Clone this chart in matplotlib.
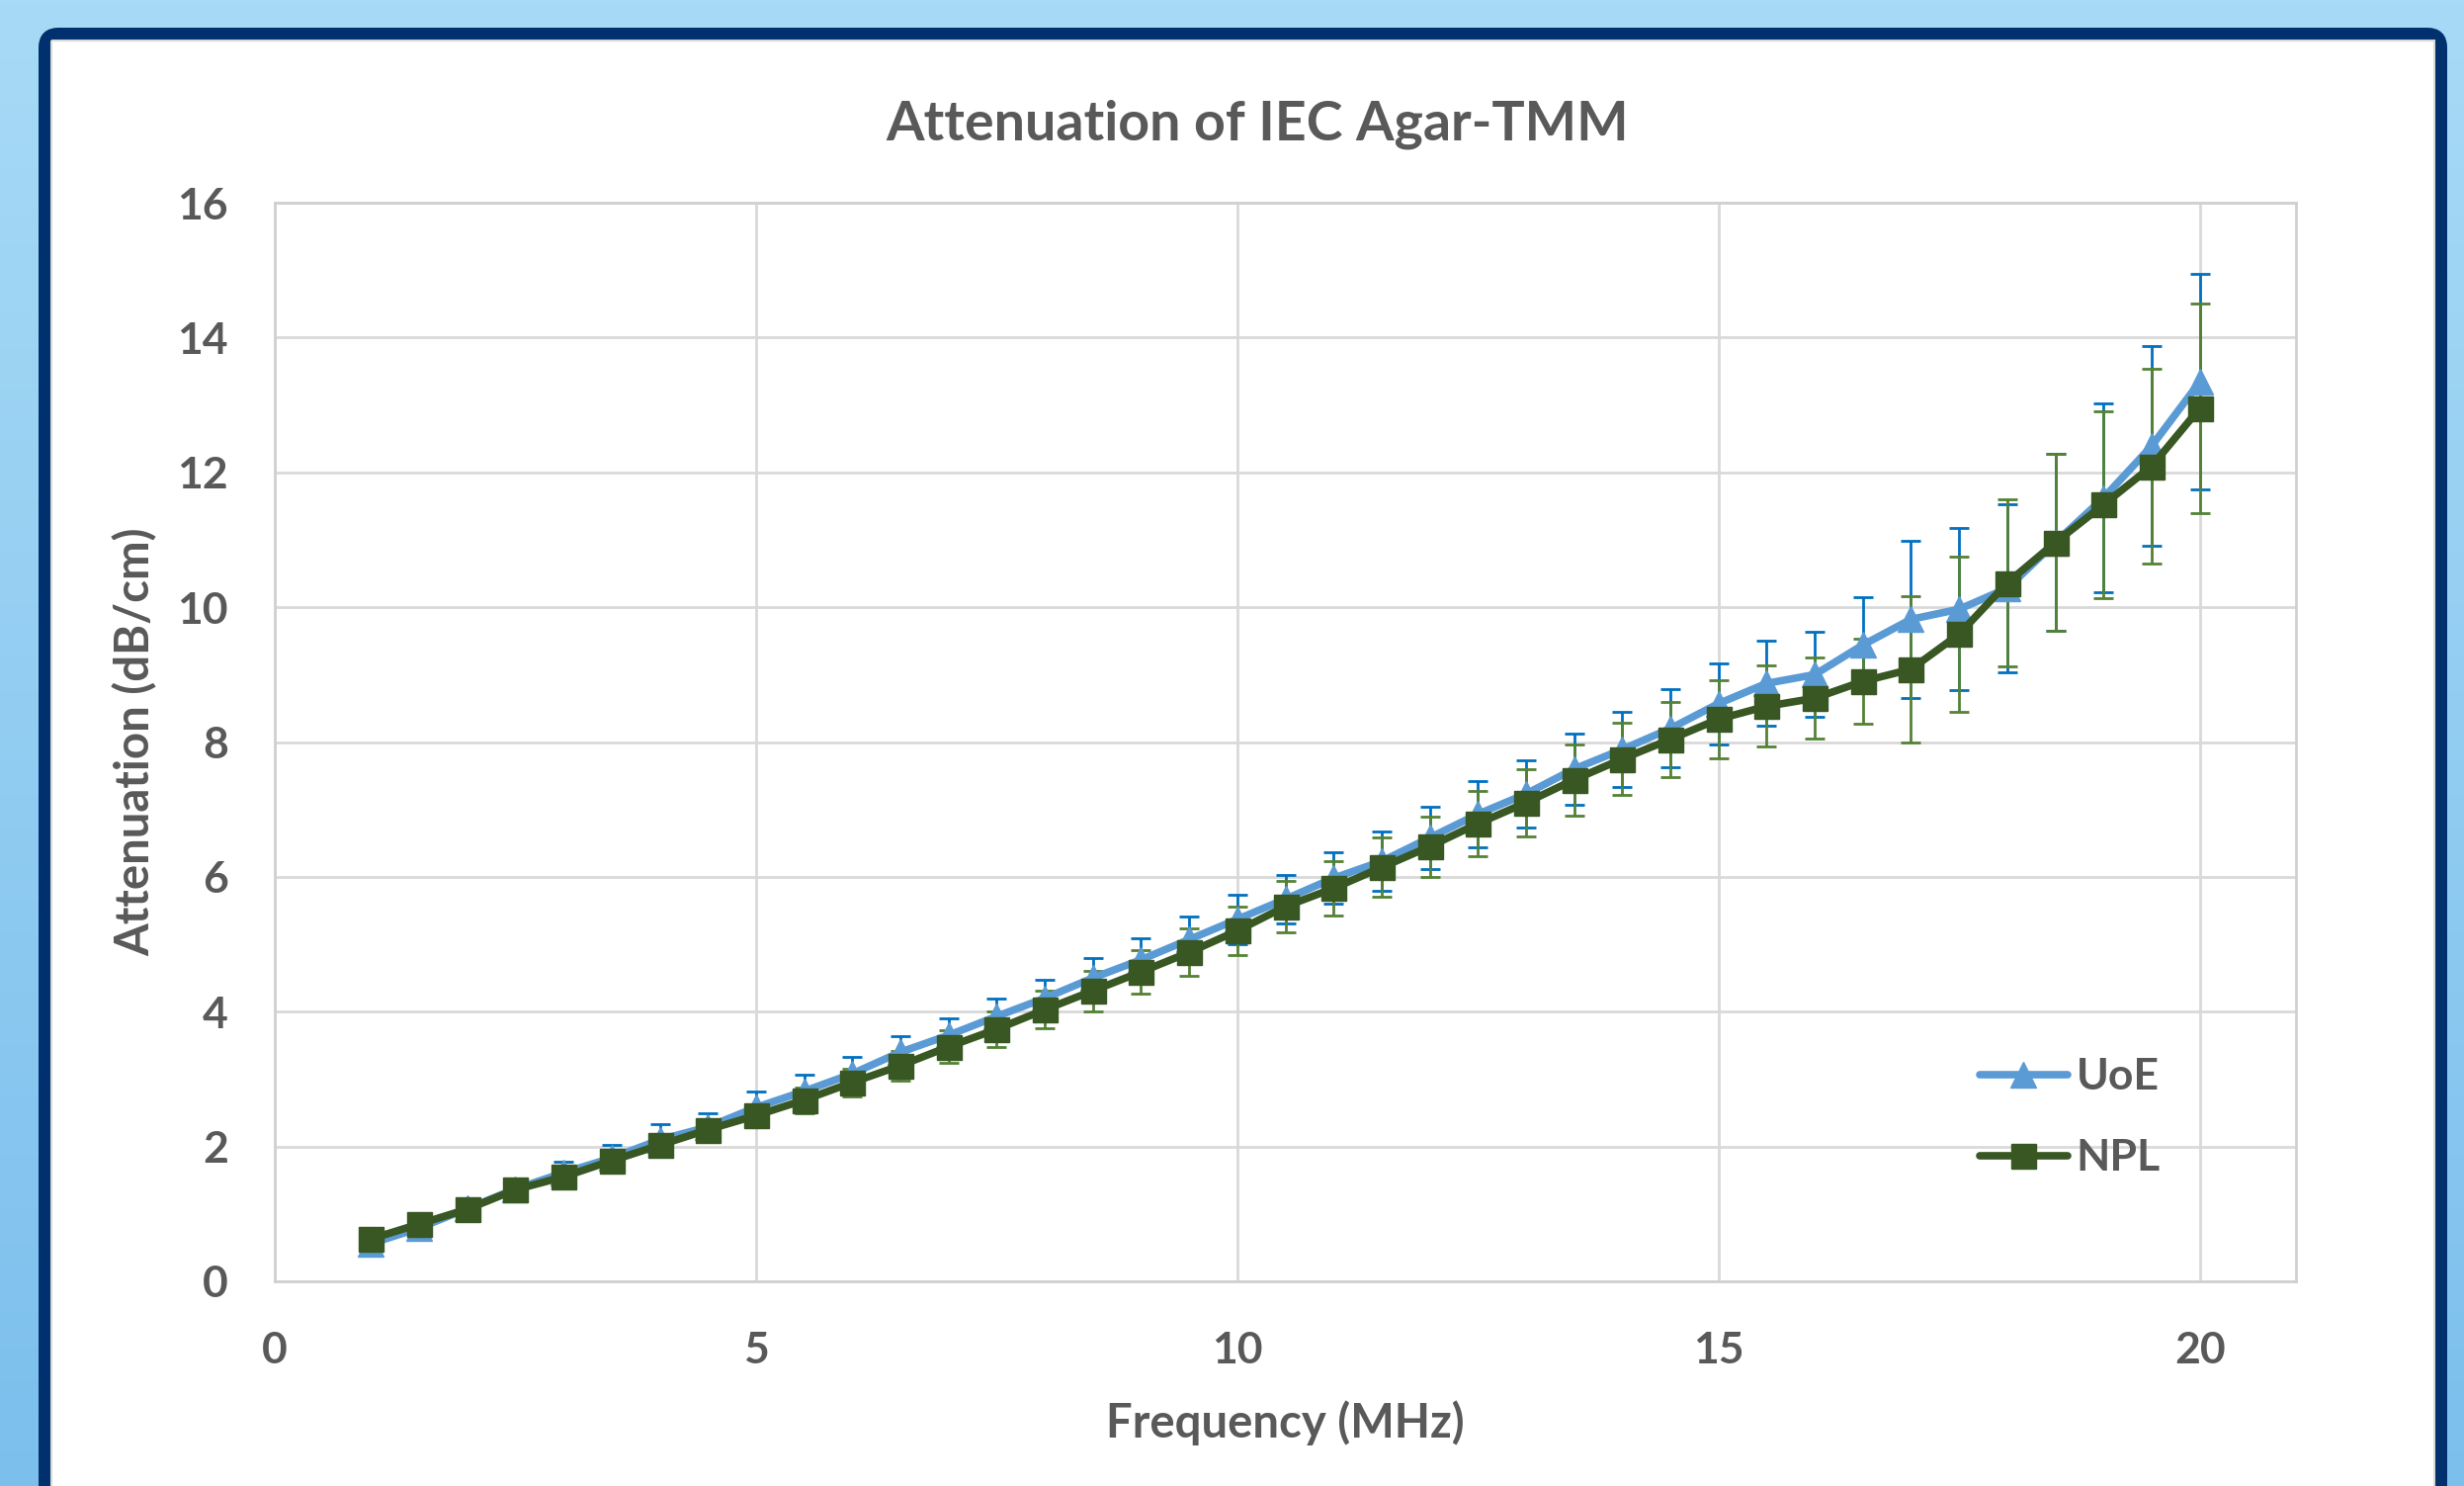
import matplotlib.pyplot as plt
import numpy as np
from matplotlib.patches import FancyBboxPatch, Rectangle

plt.rcParams['font.family'] = ['Lato', 'DejaVu Sans']
plt.rcParams['font.weight'] = 'bold'
plt.rcParams['axes.labelweight'] = 'bold'

# frequency (MHz)
freq = [1.0, 1.5, 2.0, 2.5, 3.0, 3.5, 4.0, 4.5, 5.0, 5.5,
        6.0, 6.5, 7.0, 7.5, 8.0, 8.5, 9.0, 9.5, 10.0, 10.5,
        11.0, 11.5, 12.0, 12.5, 13.0, 13.5, 14.0, 14.5, 15.0, 15.5,
        16.0, 16.5, 17.0, 17.5, 18.0, 18.5, 19.0, 19.5, 20.0]

# attenuation (dB/cm)
uoe = [0.56, 0.79, 1.08, 1.37, 1.61, 1.83, 2.10, 2.29, 2.58, 2.82,
       3.08, 3.40, 3.65, 3.93, 4.20, 4.50, 4.77, 5.07, 5.37, 5.67,
       5.98, 6.23, 6.58, 6.93, 7.23, 7.60, 7.89, 8.20, 8.57, 8.87,
       9.00, 9.44, 9.82, 9.97, 10.28, 10.96, 11.62, 12.39, 13.34]
uoe_err = [0.06, 0.09, 0.12, 0.15, 0.17, 0.19, 0.23, 0.21, 0.24, 0.24,
           0.25, 0.24, 0.25, 0.26, 0.27, 0.30, 0.32, 0.34, 0.37, 0.36,
           0.38, 0.44, 0.46, 0.49, 0.50, 0.53, 0.56, 0.58, 0.60, 0.63,
           0.63, 0.71, 1.17, 1.20, 1.24, 1.31, 1.40, 1.48, 1.60]

npl = [0.63, 0.85, 1.07, 1.36, 1.55, 1.79, 2.02, 2.25, 2.46, 2.69,
       2.95, 3.20, 3.48, 3.74, 4.03, 4.31, 4.59, 4.88, 5.20, 5.56,
       5.83, 6.14, 6.45, 6.79, 7.10, 7.44, 7.75, 8.04, 8.34, 8.53,
       8.65, 8.90, 9.08, 9.60, 10.36, 10.96, 11.52, 12.09, 12.95]
npl_err = [0.04, 0.06, 0.08, 0.10, 0.11, 0.13, 0.14, 0.16, 0.17, 0.19,
           0.21, 0.22, 0.24, 0.26, 0.28, 0.30, 0.32, 0.35, 0.36, 0.38,
           0.40, 0.44, 0.45, 0.48, 0.50, 0.53, 0.54, 0.56, 0.58, 0.60,
           0.60, 0.63, 1.09, 1.15, 1.24, 1.31, 1.39, 1.45, 1.55]

TXT = '#595959'
W, H = 2493, 1503
fig = plt.figure(figsize=(W / 100, H / 100), dpi=100)

# light blue backdrop with the navy frame, drawn in pixel coords
bg = fig.add_axes([0, 0, 1, 1], zorder=0)
bg.set_xlim(0, W)
bg.set_ylim(H, 0)
bg.axis('off')
grad = np.linspace(0, 1, 256).reshape(-1, 1, 1)
top_c = np.array([167, 218, 246]) / 255
bot_c = np.array([124, 191, 237]) / 255
bg.imshow(top_c + grad * (bot_c - top_c), extent=[0, W, H, 0], aspect='auto')
bg.add_patch(FancyBboxPatch((45, 34), 2425, 1560,
                            boxstyle='round,pad=0,rounding_size=14',
                            fc='white', ec='#00306E', lw=12 * 0.72))
bg.add_patch(Rectangle((52, 41), 2411, 1560, fill=False, ec='#D9D9D9', lw=1.5))

ax = fig.add_axes([278 / W, 1 - 1296 / H, (2323 - 278) / W, (1296 - 205) / H], zorder=2)
ax.set_facecolor('white')

ax.errorbar(freq, uoe, yerr=uoe_err, fmt='none', ecolor='#0070C0',
            elinewidth=2, capsize=7, capthick=2, zorder=2)
ax.errorbar(freq, npl, yerr=npl_err, fmt='none', ecolor='#548235',
            elinewidth=2, capsize=7, capthick=2, zorder=3)
ax.plot(freq, uoe, color='#5B9BD5', lw=5.5, marker='^', ms=19, label='UoE',
        solid_joinstyle='round', solid_capstyle='round', zorder=4)
ax.plot(freq, npl, color='#385723', lw=5.5, marker='s', ms=18, label='NPL',
        solid_joinstyle='round', solid_capstyle='round', zorder=5)

ax.set_xlim(0, 21)
ax.set_ylim(0, 16)
ax.set_xticks([0, 5, 10, 15, 20])
ax.set_yticks(range(0, 17, 2))
ax.grid(True, color='#D9D9D9', lw=2)
ax.set_axisbelow(True)
for s in ax.spines.values():
    s.set_color('#D0D0D0')
    s.set_linewidth(2)
ax.tick_params(axis='both', length=0, labelsize=32, labelcolor=TXT)
ax.tick_params(axis='y', pad=34)
ax.tick_params(axis='x', pad=36)

ax.set_xlabel('Frequency (MHz)', fontsize=34, color=TXT, fontweight='bold')
ax.set_ylabel('Attenuation (dB/cm)', fontsize=34, color=TXT, fontweight='bold')
ax.xaxis.set_label_coords(0.5, -0.110)
ax.yaxis.set_label_coords(-0.058, 0.5)

fig.text(1272 / W, 1 - 126 / H, 'Attenuation of IEC Agar-TMM', fontsize=40,
         color=TXT, ha='center', va='center')

leg = ax.legend(loc='center left', bbox_to_anchor=(0.8435, 0.152), frameon=False,
                fontsize=32, handlelength=2.0, handletextpad=0.2,
                labelspacing=0.95, borderpad=0, borderaxespad=0)
for t in leg.get_texts():
    t.set_color(TXT)

fig.savefig('out.png', dpi=100)
